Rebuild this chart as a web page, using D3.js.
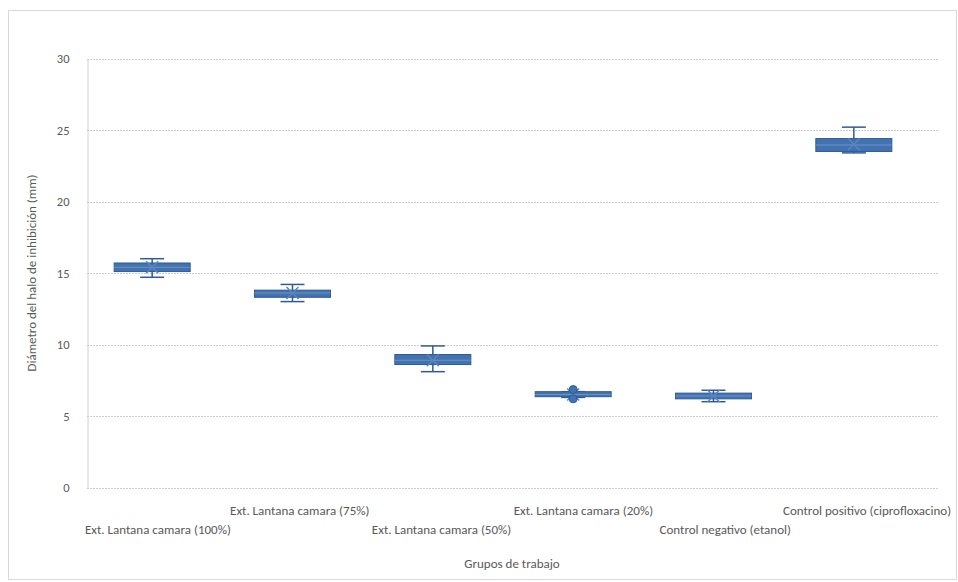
<!DOCTYPE html>
<html>
<head>
<meta charset="utf-8">
<script src="https://cdn.jsdelivr.net/npm/d3@7"></script>
<style>
  body { margin: 0; background: #fff; }
  svg text { font-family: Carlito, 'Liberation Sans Narrow', Lato, sans-serif; fill: #595959; }
</style>
</head>
<body>
<div id="chart"></div>
<script>
(function () {
  'use strict'

  // Data
  var categories = [
    'Ext. Lantana camara (100%)',
    'Ext. Lantana camara (75%)',
    'Ext. Lantana camara (50%)',
    'Ext. Lantana camara (20%)',
    'Control negativo (etanol)',
    'Control positivo (ciprofloxacino)'
  ]
  var minVals = [14.7, 13.0, 8.1, 6.3, 6.0, 23.4]
  var q1Vals = [15.1, 13.3, 8.6, 6.35, 6.2, 23.5]
  var medianVals = [15.4, 13.6, 8.9, 6.5, 6.4, 23.95]
  var q3Vals = [15.7, 13.8, 9.3, 6.7, 6.6, 24.4]
  var maxVals = [16.0, 14.2, 9.9, 6.7, 6.8, 25.2]
  var meanVals = [15.4, 13.6, 8.9, 6.5, 6.4, 24.0]
  var outliers = [[], [], [], [6.85, 6.2], [], []]
  var yTicks = [0, 5, 10, 15, 20, 25, 30]

  var w = 958
  var h = 582
  var left = 87
  var right = 938
  var top = 58.5
  var bottom = 487.5
  var boxW = 76
  var capW = 24
  var blue = '#4372b0'
  var blueDark = '#2f5b96'

  var svg = d3.select('#chart').append('svg')
    .attr('width', w)
    .attr('height', h)

  // Chart border
  svg.append('rect')
    .attr('x', 8.5).attr('y', 10.5)
    .attr('width', 948).attr('height', 569)
    .attr('fill', 'none')
    .attr('stroke', '#d9d9d9')

  var y = d3.scaleLinear().domain([0, 30]).range([bottom, top])
  var xLabel = d3.scaleBand().domain(categories).range([left, right])
  var xBox = d3.scaleBand().domain(categories).range([82, 924])

  // Gridlines
  svg.append('g').selectAll('line').data(yTicks).enter().append('line')
    .attr('x1', left).attr('x2', right)
    .attr('y1', function (d) { return Math.round(y(d)) + 0.5 })
    .attr('y2', function (d) { return Math.round(y(d)) + 0.5 })
    .attr('stroke', '#cccccc')
    .attr('stroke-dasharray', '2,1')

  // Left axis
  var yAxis = d3.axisLeft(y).tickValues(yTicks).tickSize(0).tickPadding(18)
  var gy = svg.append('g')
    .attr('transform', 'translate(' + (left + 0.5) + ',0)')
    .call(yAxis)
  gy.select('.domain').attr('stroke', '#d0d0d0')
  gy.selectAll('text').style('font-size', '12.5px').attr('fill', '#595959')

  // Category labels, staggered
  svg.append('g').selectAll('text').data(categories).enter().append('text')
    .attr('x', function (d) { return xLabel(d) + xLabel.bandwidth() / 2 })
    .attr('y', function (d, i) { return i % 2 === 0 ? 534 : 515 })
    .attr('text-anchor', 'middle')
    .style('font-size', '13px')
    .text(function (d) { return d })

  // Axis titles
  svg.append('text')
    .attr('x', 512).attr('y', 568)
    .attr('text-anchor', 'middle')
    .style('font-size', '13px')
    .text('Grupos de trabajo')

  svg.append('text')
    .attr('transform', 'translate(36,' + ((top + bottom) / 2) + ') rotate(-90)')
    .attr('text-anchor', 'middle')
    .style('font-size', '13px')
    .text('Diámetro del halo de inhibición (mm)')

  // Boxes
  var g = svg.append('g').selectAll('g').data(categories).enter().append('g')
    .attr('transform', function (d) {
      return 'translate(' + (xBox(d) + xBox.bandwidth() / 2) + ',0)'
    })

  // whisker line
  g.append('line')
    .attr('x1', 0).attr('x2', 0)
    .attr('y1', function (d, i) { return y(maxVals[i]) })
    .attr('y2', function (d, i) { return y(minVals[i]) })
    .attr('stroke', blueDark).attr('stroke-width', 1.5)

  // caps
  g.append('line')
    .attr('x1', -capW / 2).attr('x2', capW / 2)
    .attr('y1', function (d, i) { return y(maxVals[i]) })
    .attr('y2', function (d, i) { return y(maxVals[i]) })
    .attr('stroke', blueDark).attr('stroke-width', 1.5)
  g.append('line')
    .attr('x1', -capW / 2).attr('x2', capW / 2)
    .attr('y1', function (d, i) { return y(minVals[i]) })
    .attr('y2', function (d, i) { return y(minVals[i]) })
    .attr('stroke', blueDark).attr('stroke-width', 1.5)

  // box
  g.append('rect')
    .attr('x', -boxW / 2)
    .attr('width', boxW)
    .attr('y', function (d, i) { return y(q3Vals[i]) })
    .attr('height', function (d, i) { return y(q1Vals[i]) - y(q3Vals[i]) })
    .attr('fill', blue)
    .attr('stroke', blueDark)

  // median
  g.append('line')
    .attr('x1', -boxW / 2).attr('x2', boxW / 2)
    .attr('y1', function (d, i) { return y(medianVals[i]) })
    .attr('y2', function (d, i) { return y(medianVals[i]) })
    .attr('stroke', '#6d93c8').attr('stroke-width', 1)

  // mean marker (x)
  g.append('path')
    .attr('d', function (d, i) {
      var my = y(meanVals[i])
      var s = 6
      return 'M' + (-s) + ',' + (my - s) + 'L' + s + ',' + (my + s) +
        'M' + (-s) + ',' + (my + s) + 'L' + s + ',' + (my - s)
    })
    .attr('stroke', '#5b85c0').attr('stroke-width', 1.5)
    .attr('fill', 'none')

  // outlier points
  g.selectAll('circle')
    .data(function (d, i) { return outliers[i] })
    .enter().append('circle')
    .attr('cx', 0)
    .attr('cy', function (v) { return y(v) })
    .attr('r', 4)
    .attr('fill', blue)
    .attr('stroke', blueDark)
}())
</script>
</body>
</html>
